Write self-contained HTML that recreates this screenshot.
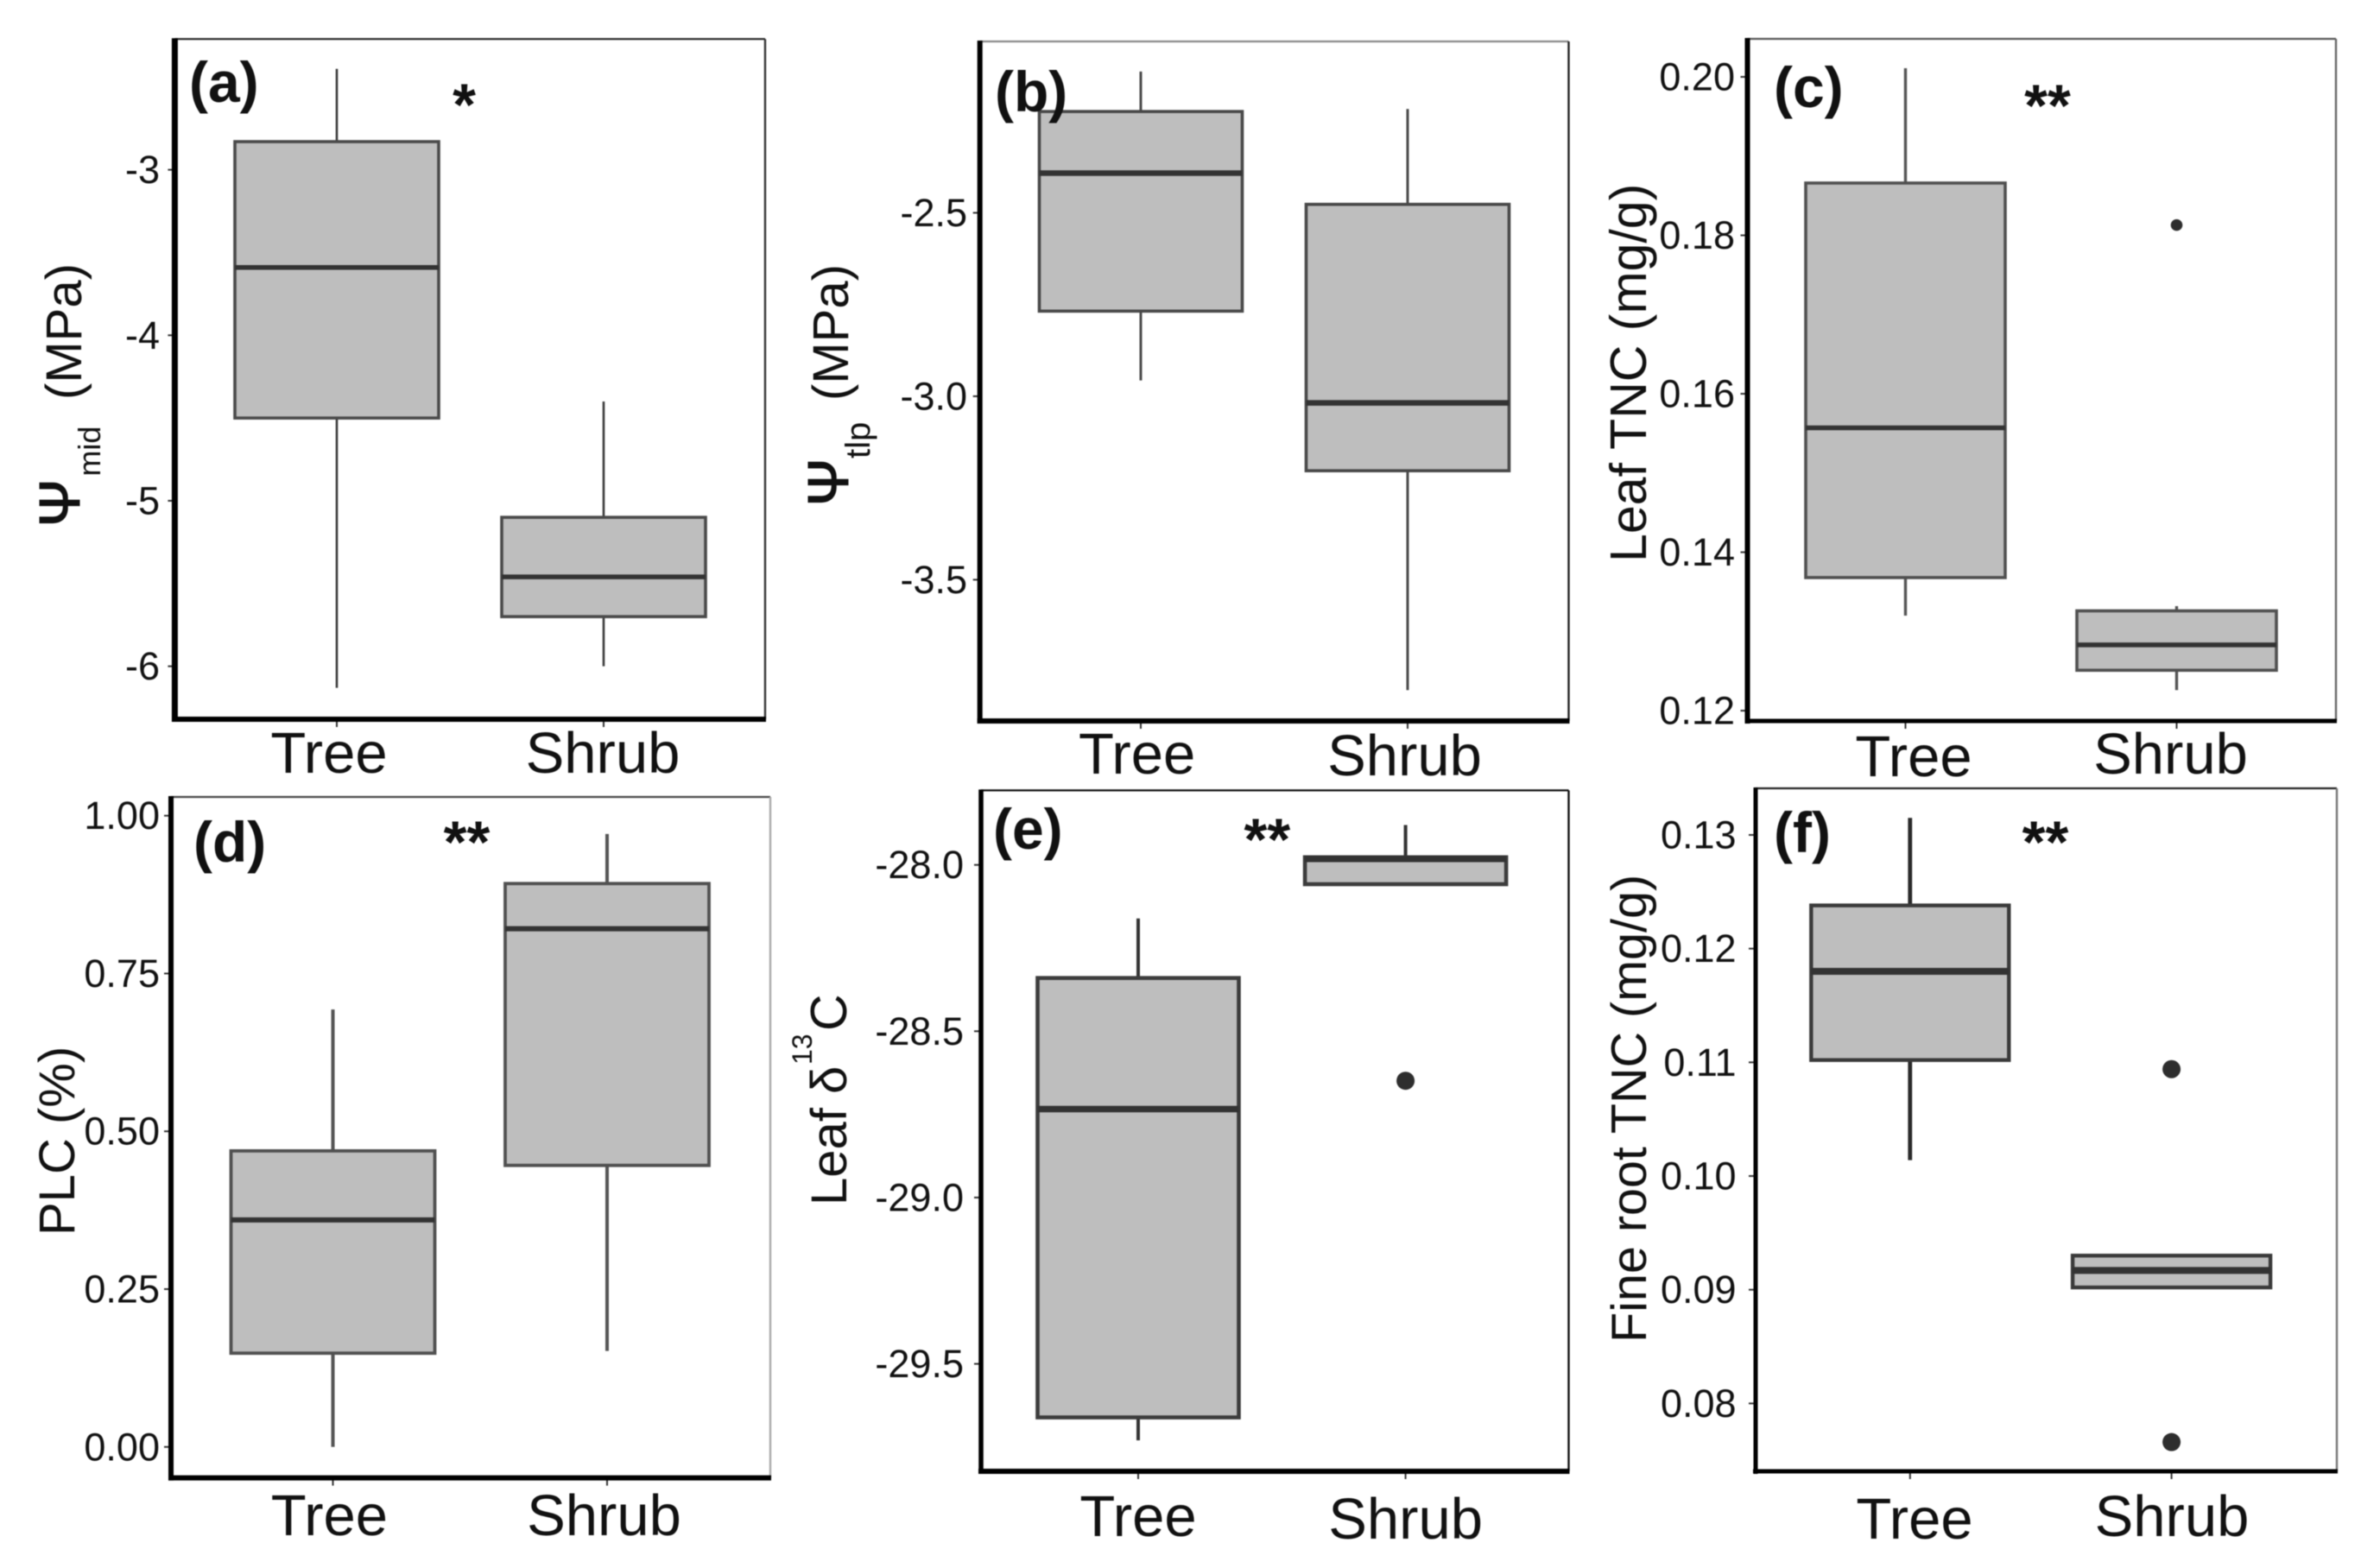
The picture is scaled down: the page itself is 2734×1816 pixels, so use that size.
<!DOCTYPE html>
<html lang="en">
<head>
<meta charset="utf-8">
<title>Boxplots of tree and shrub traits</title>
<style>
html,body{margin:0;padding:0;background:#fff;}
svg{display:block;filter:blur(0.6px);}
text{font-family:"Liberation Sans",Arial,sans-serif;fill:#111;}
</style>
</head>
<body>
<svg id="figure" xmlns="http://www.w3.org/2000/svg" width="2734" height="1816" viewBox="0 0 2734 1816">
<rect width="2734" height="1816" fill="#ffffff"></rect>
</svg>
<script>
// Categories shared by all panels
const categories = ["Tree", "Shrub"];

// Panel (a) values: [low whisker, q1, median, q3, high whisker]
const aTree = [-6.13, -4.50, -3.59, -2.83, -2.39];
const aShrub = [-6.00, -5.70, -5.46, -5.10, -4.40];
const aOutliersTree = [];
const aOutliersShrub = [];
const aTicks = [-3, -4, -5, -6];
const aTickLabels = ["-3", "-4", "-5", "-6"];
const aDomain = [-6.32, -2.21];

// Panel (b)
const bTree = [-2.957, -2.768, -2.392, -2.224, -2.115];
const bShrub = [-3.801, -3.203, -3.018, -2.477, -2.217];
const bOutliersTree = [];
const bOutliersShrub = [];
const bTicks = [-2.5, -3.0, -3.5];
const bTickLabels = ["-2.5", "-3.0", "-3.5"];
const bDomain = [-3.885, -2.033];

// Panel (c)
const cTree = [0.1320, 0.1368, 0.1557, 0.1866, 0.2011];
const cShrub = [0.1226, 0.1251, 0.1283, 0.1326, 0.1332];
const cOutliersTree = [];
const cOutliersShrub = [0.1813];
const cTicks = [0.20, 0.18, 0.16, 0.14, 0.12];
const cTickLabels = ["0.20", "0.18", "0.16", "0.14", "0.12"];
const cDomain = [0.1187, 0.2048];

// Panel (d)
const dTree = [0.000, 0.1485, 0.3596, 0.469, 0.693];
const dShrub = [0.152, 0.446, 0.821, 0.8925, 0.971];
const dOutliersTree = [];
const dOutliersShrub = [];
const dTicks = [1.00, 0.75, 0.50, 0.25, 0.00];
const dTickLabels = ["1.00", "0.75", "0.50", "0.25", "0.00"];
const dDomain = [-0.049, 1.0297];

// Panel (e)
const eTree = [-29.73, -29.661, -28.734, -28.34, -28.161];
const eShrub = [-28.058, -28.058, -27.982, -27.977, -27.88];
const eOutliersTree = [];
const eOutliersShrub = [-28.649];
const eTicks = [-28.0, -28.5, -29.0, -29.5];
const eTickLabels = ["-28.0", "-28.5", "-29.0", "-29.5"];
const eDomain = [-29.823, -27.776];

// Panel (f)
const fTree = [0.1014, 0.1102, 0.1180, 0.1238, 0.1315];
const fShrub = [0.0902, 0.0902, 0.0917, 0.0930, 0.0930];
const fOutliersTree = [];
const fOutliersShrub = [0.1094, 0.0766];
const fTicks = [0.13, 0.12, 0.11, 0.10, 0.09, 0.08];
const fTickLabels = ["0.13", "0.12", "0.11", "0.10", "0.09", "0.08"];
const fDomain = [0.07403, 0.1341];

const svg = document.getElementById('figure');
const NS = 'http://www.w3.org/2000/svg';

function make(parent, tag, attrs, content) {
  const el = document.createElementNS(NS, tag);
  for (const k in attrs) el.setAttribute(k, attrs[k]);
  if (content !== undefined) el.textContent = content;
  parent.appendChild(el);
  return el;
}

function rotated(parent, part, name) {
  const el = make(parent, 'text', {
    x: part.x, y: part.y, 'font-size': part.size,
    stroke: part.halo ? '#111' : 'none',
    'stroke-width': part.halo || 0,
    transform: 'rotate(-90 ' + part.x + ' ' + part.y + ')'
  }, part.text);
  
  
  return el;
}

function drawPanel(p) {
  const g = make(svg, 'g', {});
  
  

  const yScale = v => p.T + (p.domain[1] - v) / (p.domain[1] - p.domain[0]) * (p.B - p.T);
  const xScale = i => p.cx[0] + i * (p.cx[1] - p.cx[0]);

  // frame: thin top/right, heavy left/bottom
  const top = make(g, 'line', {x1: p.L, x2: p.R, y1: p.T, y2: p.T, stroke: p.topCol, 'stroke-width': 2.2});
  
  
  const right = make(g, 'line', {x1: p.R, x2: p.R, y1: p.T, y2: p.B, stroke: p.rightCol, 'stroke-width': 2.4});
  
  

  // y ticks
  p.ticks.forEach((t, i) => {
    const y = yScale(t);
    const tick = make(g, 'line', {x1: p.L - 8, x2: p.L, y1: y, y2: y, stroke: '#333', 'stroke-width': 2});
    
    
    const lab = make(g, 'text', {x: p.tickRight, y: y + 15.5, 'text-anchor': 'end', 'font-size': 45, fill: '#1a1a1a'}, p.tickLabels[i]);
    
    
  });

  // x ticks and category labels
  categories.forEach((c, i) => {
    const x = xScale(i);
    const tick = make(g, 'line', {x1: x, x2: x, y1: p.B, y2: p.B + 9, stroke: '#333', 'stroke-width': 2});
    
    
    const lab = make(g, 'text', {x: p.xLabels[i][0], y: p.xLabels[i][1], 'text-anchor': 'middle', 'font-size': 67}, c);
    
    
  });

  // boxes
  p.series.forEach((s, i) => {
    const cx = xScale(i);
    const bg = make(g, 'g', {});
    
    
    const hw = p.boxW / 2;
    const [low, q1, med, q3, high] = s;
    const w = make(bg, 'line', {x1: cx, x2: cx, y1: yScale(high), y2: yScale(low), stroke: p.whiskCol, 'stroke-width': p.whiskW});
    
    
    const r = make(bg, 'rect', {
      x: cx - hw, y: yScale(q3), width: p.boxW, height: yScale(q1) - yScale(q3),
      fill: '#bebebe', stroke: p.boxCol, 'stroke-width': p.boxSW
    });
    
    
    const m = make(bg, 'line', {x1: cx - hw, x2: cx + hw, y1: yScale(med), y2: yScale(med), stroke: '#333', 'stroke-width': p.medW});
    
    
    p.outliers[i].forEach(o => {
      const dot = make(bg, 'circle', {cx: cx, cy: yScale(o), r: p.outR, fill: '#2e2e2e'});
      
      
    });
  });

  // heavy axes on top
  const ax = make(g, 'line', {x1: p.L, x2: p.L, y1: p.T - 1, y2: p.B + 3, stroke: '#000', 'stroke-width': p.leftW});
  
  
  const bx = make(g, 'line', {x1: p.L - 3, x2: p.R + 1, y1: p.B, y2: p.B, stroke: '#000', 'stroke-width': p.botW});
  
  

  // y title
  p.title.forEach(part => rotated(g, part, 'y-axis-title'));

  // panel letter
  const tag = make(g, 'text', {x: p.tag[0], y: p.tag[1], 'font-size': 66, 'font-weight': 'bold', fill: '#000'}, '(' + p.id + ')');
  
  

  // significance stars
  if (p.stars) {
    const st = make(g, 'text', {x: p.stars[0], y: p.stars[1], 'text-anchor': 'middle', 'font-size': 69, 'font-weight': 'bold', fill: '#000'}, p.stars[2]);
    
    
  }
}

drawPanel({
  id: 'a', L: 202.4, T: 45.2, R: 886, B: 833, domain: aDomain,
  ticks: aTicks, tickLabels: aTickLabels, tickRight: 185,
  cx: [390, 699], boxW: 236, series: [aTree, aShrub], outliers: [aOutliersTree, aOutliersShrub],
  boxCol: '#4a4a4a', boxSW: 3.6, whiskCol: '#3a3a3a', whiskW: 2.6, medW: 5.5, outR: 7,
  leftW: 7, botW: 6, topCol: '#222', rightCol: '#333',
  xLabels: [[381, 895], [698, 895]], tag: [219, 118], stars: [537.5, 145, '*'],
  title: [
    {text: 'Ψ', x: 92, y: 610, size: 66, halo: 1.5},
    {text: 'mid', x: 116, y: 551.6, size: 36},
    {text: '(MPa)', x: 94, y: 463, size: 58}
  ]
});
drawPanel({
  id: 'b', L: 1134.7, T: 48, R: 1816.5, B: 835, domain: bDomain,
  ticks: bTicks, tickLabels: bTickLabels, tickRight: 1120,
  cx: [1321, 1630], boxW: 235, series: [bTree, bShrub], outliers: [bOutliersTree, bOutliersShrub],
  boxCol: '#484848', boxSW: 3.6, whiskCol: '#4a4a4a', whiskW: 3, medW: 6.5, outR: 7,
  leftW: 6, botW: 6, topCol: '#888', rightCol: '#222',
  xLabels: [[1316.6, 896], [1626.5, 898]], tag: [1152, 129], stars: null,
  title: [
    {text: 'Ψ', x: 982, y: 586, size: 66, halo: 1.5},
    {text: 'tlp', x: 1007, y: 531, size: 40},
    {text: '(MPa)', x: 982, y: 464, size: 58}
  ]
});
drawPanel({
  id: 'c', L: 2023.5, T: 45, R: 2705, B: 835, domain: cDomain,
  ticks: cTicks, tickLabels: cTickLabels, tickRight: 2009,
  cx: [2206.5, 2520.5], boxW: 231, series: [cTree, cShrub], outliers: [cOutliersTree, cOutliersShrub],
  boxCol: '#505050', boxSW: 3.6, whiskCol: '#555', whiskW: 3.4, medW: 5.5, outR: 6.8,
  leftW: 6, botW: 5, topCol: '#555', rightCol: '#666',
  xLabels: [[2216, 899], [2513.5, 896]], tag: [2054, 124], stars: [2371, 146, '**'],
  title: [{text: 'Leaf TNC (mg/g)', x: 1906, y: 651, size: 59}]
});
drawPanel({
  id: 'd', L: 198, T: 923, R: 892, B: 1711.6, domain: dDomain,
  ticks: dTicks, tickLabels: dTickLabels, tickRight: 185,
  cx: [385.5, 703], boxW: 236, series: [dTree, dShrub], outliers: [dOutliersTree, dOutliersShrub],
  boxCol: '#505050', boxSW: 3.8, whiskCol: '#555', whiskW: 4, medW: 6, outR: 7,
  leftW: 6, botW: 6, topCol: '#444', rightCol: '#aaa',
  xLabels: [[381.4, 1778], [699.5, 1778]], tag: [224, 998], stars: [540.5, 999, '**'],
  title: [{text: 'PLC (%)', x: 86, y: 1431, size: 58}]
});
drawPanel({
  id: 'e', L: 1136, T: 915.4, R: 1816.5, B: 1704, domain: eDomain,
  ticks: eTicks, tickLabels: eTickLabels, tickRight: 1116,
  cx: [1318, 1627.6], boxW: 233, series: [eTree, eShrub], outliers: [eOutliersTree, eOutliersShrub],
  boxCol: '#3c3c3c', boxSW: 4.6, whiskCol: '#333', whiskW: 4, medW: 7.5, outR: 10.5,
  leftW: 5.5, botW: 6, topCol: '#111', rightCol: '#111',
  xLabels: [[1318, 1779], [1627.6, 1782]], tag: [1150, 983], stars: [1467.4, 996, '**'],
  title: [
    {text: 'Leaf δ', x: 980, y: 1396, size: 58},
    {text: '13', x: 940, y: 1233, size: 32},
    {text: 'C', x: 980, y: 1194, size: 59}
  ]
});
drawPanel({
  id: 'f', L: 2033, T: 913, R: 2706, B: 1704, domain: fDomain,
  ticks: fTicks, tickLabels: fTickLabels, tickRight: 2010.6,
  cx: [2211.8, 2514.6], boxW: 229, series: [fTree, fShrub], outliers: [fOutliersTree, fOutliersShrub],
  boxCol: '#3a3a3a', boxSW: 4.4, whiskCol: '#2a2a2a', whiskW: 4.8, medW: 8, outR: 10.5,
  leftW: 5, botW: 5, topCol: '#222', rightCol: '#777',
  xLabels: [[2217, 1782], [2515, 1779]], tag: [2054, 987], stars: [2368.5, 999, '**'],
  title: [{text: 'Fine root TNC (mg/g)', x: 1906, y: 1555, size: 57.5}]
});
</script>
</body>
</html>
